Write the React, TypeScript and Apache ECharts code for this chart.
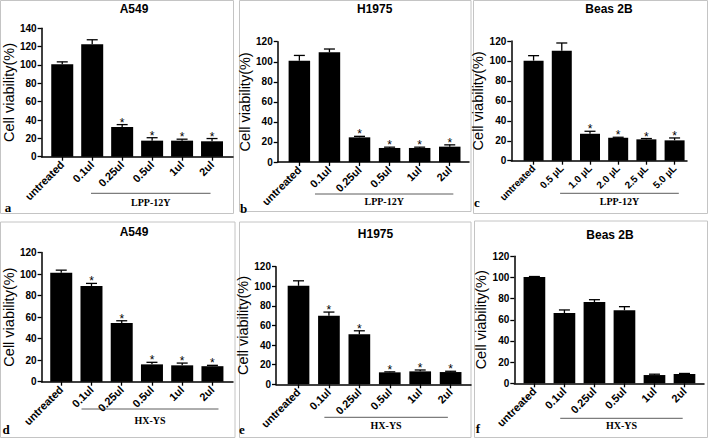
import React, { useEffect, useRef } from "react";
import * as echarts from "echarts";

// ---------- data ----------
const catsUl = ["untreated", "0.1ul", "0.25ul", "0.5ul", "1ul", "2ul"];
const catsMicro = ["untreated", "0.5 µL", "1.0 µL", "2.0 µL", "2.5 µL", "5.0 µL"];

const titles = ["A549", "H1975", "Beas 2B", "A549", "H1975", "Beas 2B"];
const groupNames = ["LPP-12Y", "LPP-12Y", "LPP-12Y", "HX-YS", "HX-YS", "HX-YS"];
const panelLetters = ["a", "b", "c", "d", "e", "f"];
const yAxisTitle = "Cell viability(%)";
const yMaxes = [140, 120, 120, 120, 120, 120];
const yStep = 20;

// a: A549 + LPP-12Y
const meanA = [100.7, 122.6, 32.3, 17.5, 17.5, 16.8];
const sdA = [2.7, 4.9, 2.7, 3.2, 1.6, 3.0];
const sigA = [0, 0, 1, 1, 1, 1];
// b: H1975 + LPP-12Y
const meanB = [101.0, 109.4, 24.6, 14.0, 14.0, 15.3];
const sdB = [5.3, 3.3, 1.0, 0.8, 0.8, 1.8];
const sigB = [0, 0, 1, 1, 1, 1];
// c: Beas 2B + LPP-12Y
const meanC = [100.3, 110.3, 27.0, 23.0, 21.4, 20.4];
const sdC = [5.0, 7.7, 2.5, 0.5, 0.8, 2.4];
const sigC = [0, 0, 1, 1, 1, 1];
// d: A549 + HX-YS
const meanD = [101.1, 88.8, 54.5, 16.1, 15.2, 14.4];
const sdD = [2.5, 2.5, 2.1, 1.9, 2.1, 0.8];
const sigD = [0, 1, 1, 1, 1, 1];
// e: H1975 + HX-YS
const meanE = [100.5, 69.9, 51.0, 12.2, 13.2, 12.5];
const sdE = [5.1, 3.8, 3.6, 0.5, 1.4, 0.8];
const sigE = [0, 1, 1, 1, 1, 1];
// f: Beas 2B + HX-YS
const meanF = [100.5, 66.4, 76.8, 69.0, 7.8, 8.8];
const sdF = [0.4, 2.9, 2.2, 3.4, 0.8, 0.5];
const sigF = [0, 0, 0, 0, 0, 0];

const panelCats = [catsUl, catsUl, catsMicro, catsUl, catsUl, catsUl];
const panelMeans = [meanA, meanB, meanC, meanD, meanE, meanF];
const panelSds = [sdA, sdB, sdC, sdD, sdE, sdF];
const panelSigs = [sigA, sigB, sigC, sigD, sigE, sigF];

// ---------- layout ----------
const layouts = [
  { left: 37.3, top: 28.3, width: 195.7, height: 128.4, xMin: -0.69, xMax: 5.7, barW: 22, labelSize: 11, nameGap: 19, lineFrom: 0.96, lineTo: 4.95, lineOff: 36.6, textOff: 46, title: [134, 8.5], letter: [8, 207], border: [0.5, 0.5, 233, 213] },
  { left: 277.7, top: 41.7, width: 191.3, height: 120.3, xMin: -0.72, xMax: 5.64, barW: 21.5, labelSize: 11, nameGap: 21, lineFrom: 0.52, lineTo: 5.12, lineOff: 32, textOff: 39.7, title: [374.7, 9.3], letter: [243.5, 208], border: [239.5, 0.5, 231.5, 211] },
  { left: 511.3, top: 41, width: 175.7, height: 119.7, xMin: -0.79, xMax: 5.44, barW: 20, labelSize: 10, nameGap: 17.5, lineFrom: 0.94, lineTo: 5.15, lineOff: 32.6, textOff: 40.6, title: [609, 8.5], letter: [477, 202], border: [473.5, 0.5, 234, 213] },
  { left: 40, top: 252.5, width: 193, height: 129.2, xMin: -0.65, xMax: 5.68, barW: 22, labelSize: 11, nameGap: 21.5, lineFrom: 0.67, lineTo: 5.2, lineOff: 27.3, textOff: 38.3, title: [134, 232.3], letter: [6, 429], border: [0.5, 222, 234.5, 215.5] },
  { left: 276, top: 266.7, width: 195, height: 117.6, xMin: -0.74, xMax: 5.67, barW: 21.7, labelSize: 11, nameGap: 22, lineFrom: 0.85, lineTo: 4.91, lineOff: 33, textOff: 41.4, title: [375.5, 234], letter: [242, 429.7], border: [239.5, 222, 231.5, 215.5] },
  { left: 514.3, top: 256.3, width: 189.7, height: 127, xMin: -0.67, xMax: 5.65, barW: 21.7, labelSize: 11, nameGap: 22, lineFrom: 0.86, lineTo: 4.94, lineOff: 35, textOff: 42.4, title: [610, 235], letter: [478, 428.3], border: [474.5, 221, 233, 216.5] },
];

const SANS = "'Liberation Sans', Arial, sans-serif";
const SERIF = "'Liberation Serif', 'Times New Roman', serif";
const CAP_W = 11;

function buildOption() {
  const grid: any[] = [];
  const xAxis: any[] = [];
  const yAxis: any[] = [];
  const series: any[] = [];
  const graphic: any[] = [];

  layouts.forEach((l, i) => {
    const cats = panelCats[i];
    const idx = cats.map((_, j) => j);
    grid.push({ left: l.left, top: l.top, width: l.width, height: l.height });
    xAxis.push({
      type: "value",
      gridIndex: i,
      min: l.xMin,
      max: l.xMax,
      splitLine: { show: false },
      axisLine: { show: true, onZero: false, lineStyle: { color: "#000", width: 1.5 } },
      axisTick: { show: true, customValues: idx, length: 4, lineStyle: { color: "#000", width: 1.3 } },
      axisLabel: {
        customValues: idx,
        formatter: (v: number) => cats[Math.round(v)] ?? "",
        rotate: 45,
        margin: 6,
        fontSize: l.labelSize,
        fontWeight: "bold",
        color: "#000",
        fontFamily: SANS,
      },
    });
    yAxis.push({
      type: "value",
      gridIndex: i,
      min: 0,
      max: yMaxes[i],
      interval: yStep,
      splitLine: { show: false },
      axisLine: { show: true, onZero: false, lineStyle: { color: "#000", width: 1.5 } },
      axisTick: { show: true, length: 4, lineStyle: { color: "#000", width: 1.3 } },
      axisLabel: { fontSize: 10, fontWeight: "bold", color: "#000", fontFamily: SANS, margin: 5 },
      name: yAxisTitle,
      nameLocation: "middle",
      nameGap: l.nameGap,
      nameTextStyle: { fontSize: 14.5, color: "#000", fontFamily: SANS },
    });
    const means = panelMeans[i];
    const sds = panelSds[i];
    const sigs = panelSigs[i];
    series.push({
      type: "bar",
      xAxisIndex: i,
      yAxisIndex: i,
      barWidth: l.barW,
      itemStyle: { color: "#000" },
      data: means.map((m, j) => [j, m]),
    });
    series.push({
      type: "custom",
      xAxisIndex: i,
      yAxisIndex: i,
      encode: { x: 0, y: 1 },
      data: means.map((m, j) => [j, m, sds[j], sigs[j]]),
      renderItem: (_p: any, api: any) => {
        const x = api.value(0);
        const m = api.value(1);
        const e = api.value(2);
        const s = api.value(3);
        const p0 = api.coord([x, m]);
        const p1 = api.coord([x, m + e]);
        const children: any[] = [
          { type: "line", shape: { x1: p0[0], y1: p0[1], x2: p1[0], y2: p1[1] }, style: { stroke: "#000", lineWidth: 1.3 } },
          { type: "line", shape: { x1: p1[0] - CAP_W / 2, y1: p1[1], x2: p1[0] + CAP_W / 2, y2: p1[1] }, style: { stroke: "#000", lineWidth: 1.3 } },
        ];
        if (s) {
          children.push({
            type: "text",
            x: p1[0],
            y: p1[1] - 8,
            style: { text: "*", textAlign: "center", textVerticalAlign: "top", font: `12px ${SANS}`, fill: "#000" },
          });
        }
        return { type: "group", children };
      },
    });
    series.push({
      type: "custom",
      xAxisIndex: i,
      yAxisIndex: i,
      data: [[l.lineFrom, l.lineTo]],
      renderItem: (_p: any, api: any) => {
        const a = api.coord([api.value(0), 0]);
        const b = api.coord([api.value(1), 0]);
        const y = a[1] + l.lineOff;
        return {
          type: "group",
          children: [
            { type: "line", shape: { x1: a[0], y1: y, x2: b[0], y2: y }, style: { stroke: "#333", lineWidth: 0.8 } },
            {
              type: "text",
              x: (a[0] + b[0]) / 2,
              y: a[1] + l.textOff,
              style: { text: groupNames[i], textAlign: "center", textVerticalAlign: "middle", font: `bold 10px ${SERIF}`, fill: "#000" },
            },
          ],
        };
      },
    });
    graphic.push({
      type: "rect",
      shape: { x: l.border[0], y: l.border[1], width: l.border[2], height: l.border[3] },
      style: { fill: "none", stroke: "#c4c4c4", lineWidth: 1 },
      silent: true,
    });
    graphic.push({
      type: "text",
      x: l.title[0],
      y: l.title[1],
      style: { text: titles[i], textAlign: "center", textVerticalAlign: "middle", font: `bold 12px ${SANS}`, fill: "#000" },
    });
    graphic.push({
      type: "text",
      x: l.letter[0],
      y: l.letter[1],
      style: { text: panelLetters[i], textAlign: "center", textVerticalAlign: "middle", font: `bold 13px ${SERIF}`, fill: "#000" },
    });
  });

  return { animation: false, backgroundColor: "#fff", grid, xAxis, yAxis, series, graphic };
}

export default function App() {
  const ref = useRef<HTMLDivElement>(null);
  useEffect(() => {
    if (!ref.current) return;
    const chart = echarts.init(ref.current, null, { renderer: "svg" });
    chart.setOption(buildOption() as any);
    return () => chart.dispose();
  }, []);
  return <div ref={ref} style={{ position: "absolute", left: 0, top: 0, width: 708, height: 438, background: "#fff" }} />;
}
